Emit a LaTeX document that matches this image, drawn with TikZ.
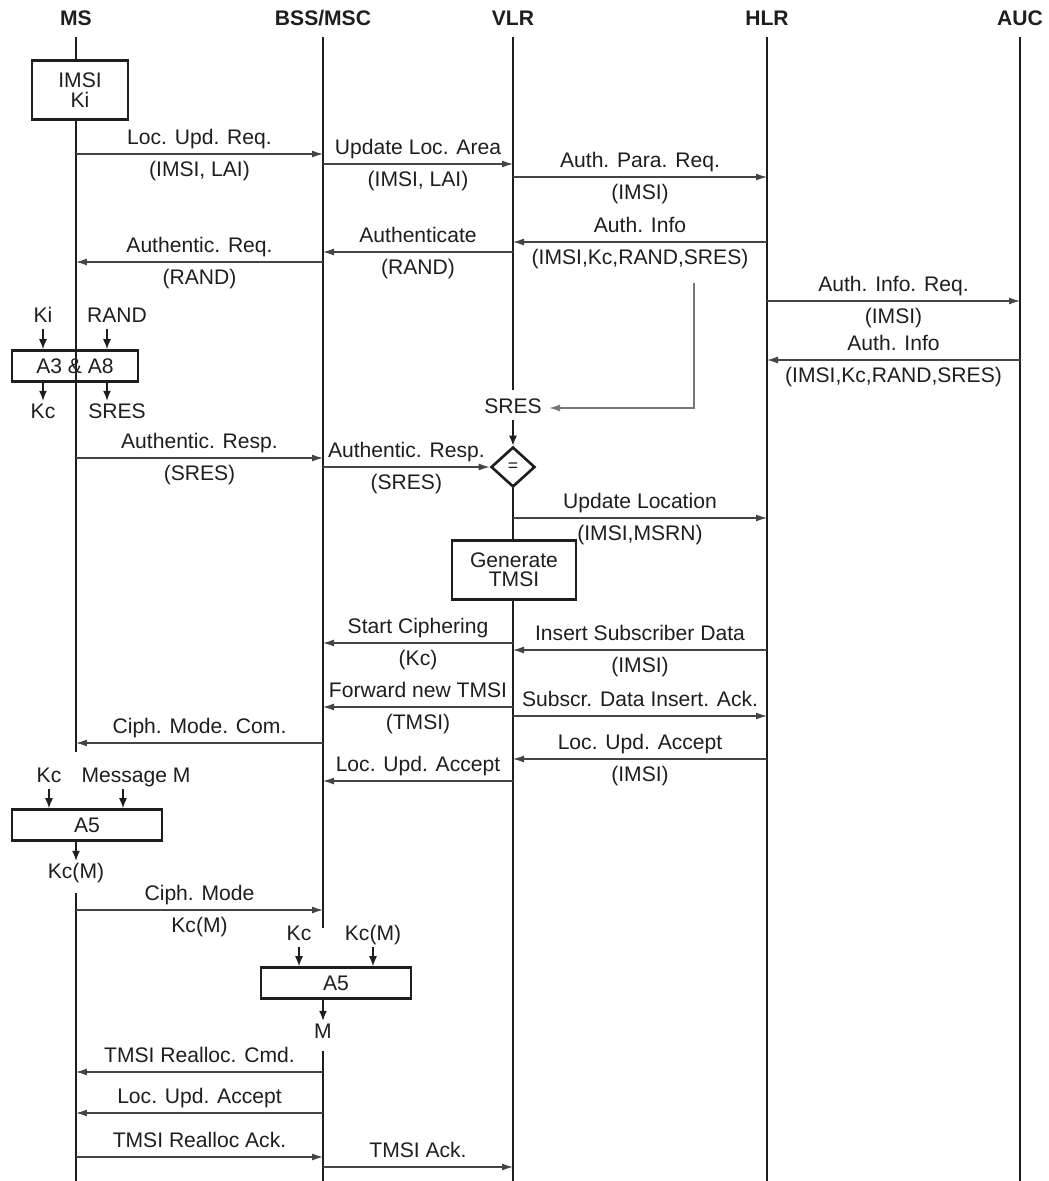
\documentclass[tikz,border=0pt]{standalone}
\usepackage{fontspec}
\setmainfont{Liberation Sans}
\usepackage{xcolor}
\usepackage{tikz}
\usetikzlibrary{arrows.meta,positioning,shapes.geometric}
\definecolor{ink}{HTML}{1E1E1E}
\definecolor{wire}{HTML}{444444}
\definecolor{feed}{HTML}{777777}

\begin{document}
\begin{tikzpicture}[
  x=0.02cm, y=-0.02cm,
  every node/.style={font=\fontsize{12}{14}\selectfont,text=ink},
  head/.style={font=\bfseries\fontsize{12}{14}\selectfont,inner sep=1pt},
  lifeline/.style={line width=1.6pt,color=ink},
  msg/.style={-{Latex[length=2.2mm,width=1.4mm]},line width=0.7pt,color=wire},
  tip/.style={-{Latex[length=2mm,width=1.6mm]},line width=0.8pt,color=ink},
  feedline/.style={-{Latex[length=2.2mm,width=1.4mm]},line width=0.8pt,color=feed,shorten >=3pt},
  lbl/.style={inner sep=1pt,text height=9pt,text depth=2.5pt},
  txtup/.style={lbl,above=1.3pt},
  txtdown/.style={lbl,below=2.5pt},
  algobox/.style={draw=ink,line width=1.5pt,minimum height=0.62cm,inner sep=1pt},
  infobox/.style={draw=ink,fill=white,line width=1.5pt,align=center,minimum height=1.18cm,inner sep=1pt,font=\fontsize{12}{11}\selectfont},
  cmp/.style={diamond,draw=ink,fill=white,line width=1.5pt,minimum width=0.88cm,minimum height=0.8cm,inner sep=0pt,font=\fontsize{10}{12}\selectfont}
]
\useasboundingbox (0,0) rectangle (1049,1181);
\node[head] (ms) at (76,18) {MS};
\node[head] (bss) at (323,18) {BSS/MSC};
\node[head] (vlr) at (513,18) {VLR};
\node[head] (hlr) at (767,18) {HLR};
\node[head] (auc) at (1020,18) {AUC};
\node[lbl] (sresv) at (513,408) {SRES};
\node[cmp] (eq) at (513,467) {=};
\draw[lifeline] (ms |- 0,37) -- (ms |- 0,752);
\draw[lifeline] (ms |- 0,893) -- (ms |- 0,1181);
\draw[lifeline] (bss |- 0,37) -- (bss |- 0,928);
\draw[lifeline] (bss |- 0,1051) -- (bss |- 0,1181);
\draw[lifeline] (vlr |- 0,37) -- (vlr |- 0,390);
\draw[lifeline] (hlr |- 0,37) -- (hlr |- 0,1181);
\draw[lifeline] (auc |- 0,37) -- (auc |- 0,1181);
\node[infobox,minimum width=1.92cm] (keys) at (80,90) {IMSI\\Ki};
\node[infobox,minimum width=2.48cm] (gen) at (514,570) {Generate\\TMSI};
\draw[lifeline] (vlr |- eq.south) -- (vlr |- gen.north);
\draw[lifeline] (vlr |- gen.south) -- (vlr |- 0,1181);
\node[lbl] (ki) at (43,317) {Ki};
\node[lbl] (randin) at (117,317) {RAND};
\node[algobox,minimum width=2.52cm] (a38) at (75,366) {A3 \& A8};
\node[lbl] (kcout) at (43,413) {Kc};
\node[lbl] (sresout) at (117,413) {SRES};
\coordinate (randx) at (107,0);
\draw[tip] (ki) -- (ki |- a38.north);
\draw[tip] (randin.south -| randx) -- (a38.north -| randx);
\draw[tip] (a38.south -| kcout) -- (kcout);
\draw[tip] (a38.south -| randx) -- (sresout.north -| randx);
\node[lbl] (kcin) at (49,777) {Kc};
\node[lbl] (msgin) at (136,777) {Message M};
\node[algobox,minimum width=3cm] (a5ms) at (87,825) {A5};
\node[lbl] (kcm) at (76,873) {Kc(M)};
\coordinate (msgx) at (123,0);
\draw[tip] (kcin) -- (kcin |- a5ms.north);
\draw[tip] (msgin.south -| msgx) -- (a5ms.north -| msgx);
\draw[tip] (a5ms.south -| ms) -- (kcm);
\node[lbl] (kcbss) at (299,935) {Kc};
\node[lbl] (kcmbss) at (373,935) {Kc(M)};
\node[algobox,minimum width=3cm] (a5bss) at (336,983) {A5};
\node[lbl] (plain) at (323,1033) {M};
\draw[tip] (kcbss) -- (kcbss |- a5bss.north);
\draw[tip] (kcmbss) -- (kcmbss |- a5bss.north);
\draw[tip] (a5bss.south -| bss) -- (plain);
\coordinate (fb) at (694,283);
\draw[feedline] (fb) |- (sresv);
\draw[tip] (sresv) -- (eq);
\draw[msg] (ms |- 0,154) -- node[txtup]{Loc. Upd. Req.} node[txtdown]{(IMSI, LAI)} (bss |- 0,154);
\draw[msg] (bss |- 0,164) -- node[txtup]{Update Loc. Area} node[txtdown]{(IMSI, LAI)} (vlr |- 0,164);
\draw[msg] (vlr |- 0,177) -- node[txtup]{Auth. Para. Req.} node[txtdown]{(IMSI)} (hlr |- 0,177);
\draw[msg] (hlr |- 0,242) -- node[txtup]{Auth. Info} node[txtdown]{(IMSI,Kc,RAND,SRES)} (vlr |- 0,242);
\draw[msg] (vlr |- 0,252) -- node[txtup]{Authenticate} node[txtdown]{(RAND)} (bss |- 0,252);
\draw[msg] (bss |- 0,262) -- node[txtup]{Authentic. Req.} node[txtdown]{(RAND)} (ms |- 0,262);
\draw[msg] (hlr |- 0,301) -- node[txtup]{Auth. Info. Req.} node[txtdown]{(IMSI)} (auc |- 0,301);
\draw[msg] (auc |- 0,360) -- node[txtup]{Auth. Info} node[txtdown]{(IMSI,Kc,RAND,SRES)} (hlr |- 0,360);
\draw[msg] (ms |- 0,458) -- node[txtup]{Authentic. Resp.} node[txtdown]{(SRES)} (bss |- 0,458);
\draw[msg] (bss |- eq) -- node[txtup]{Authentic. Resp.} node[txtdown]{(SRES)} (eq);
\draw[msg] (vlr |- 0,518) -- node[txtup]{Update Location} node[txtdown]{(IMSI,MSRN)} (hlr |- 0,518);
\draw[msg] (vlr |- 0,643) -- node[txtup]{Start Ciphering} node[txtdown]{(Kc)} (bss |- 0,643);
\draw[msg] (hlr |- 0,650) -- node[txtup]{Insert Subscriber Data} node[txtdown]{(IMSI)} (vlr |- 0,650);
\draw[msg] (vlr |- 0,707) -- node[txtup]{Forward new TMSI} node[txtdown]{(TMSI)} (bss |- 0,707);
\draw[msg] (vlr |- 0,716) -- node[txtup]{Subscr. Data Insert. Ack.} (hlr |- 0,716);
\draw[msg] (bss |- 0,743) -- node[txtup]{Ciph. Mode. Com.} (ms |- 0,743);
\draw[msg] (hlr |- 0,759) -- node[txtup]{Loc. Upd. Accept} node[txtdown]{(IMSI)} (vlr |- 0,759);
\draw[msg] (vlr |- 0,781) -- node[txtup]{Loc. Upd. Accept} (bss |- 0,781);
\draw[msg] (ms |- 0,910) -- node[txtup]{Ciph. Mode} node[txtdown]{Kc(M)} (bss |- 0,910);
\draw[msg] (bss |- 0,1072) -- node[txtup]{TMSI Realloc. Cmd.} (ms |- 0,1072);
\draw[msg] (bss |- 0,1113) -- node[txtup]{Loc. Upd. Accept} (ms |- 0,1113);
\draw[msg] (ms |- 0,1157) -- node[txtup]{TMSI Realloc Ack.} (bss |- 0,1157);
\draw[msg] (bss |- 0,1167) -- node[txtup]{TMSI Ack.} (vlr |- 0,1167);
\end{tikzpicture}
\end{document}
